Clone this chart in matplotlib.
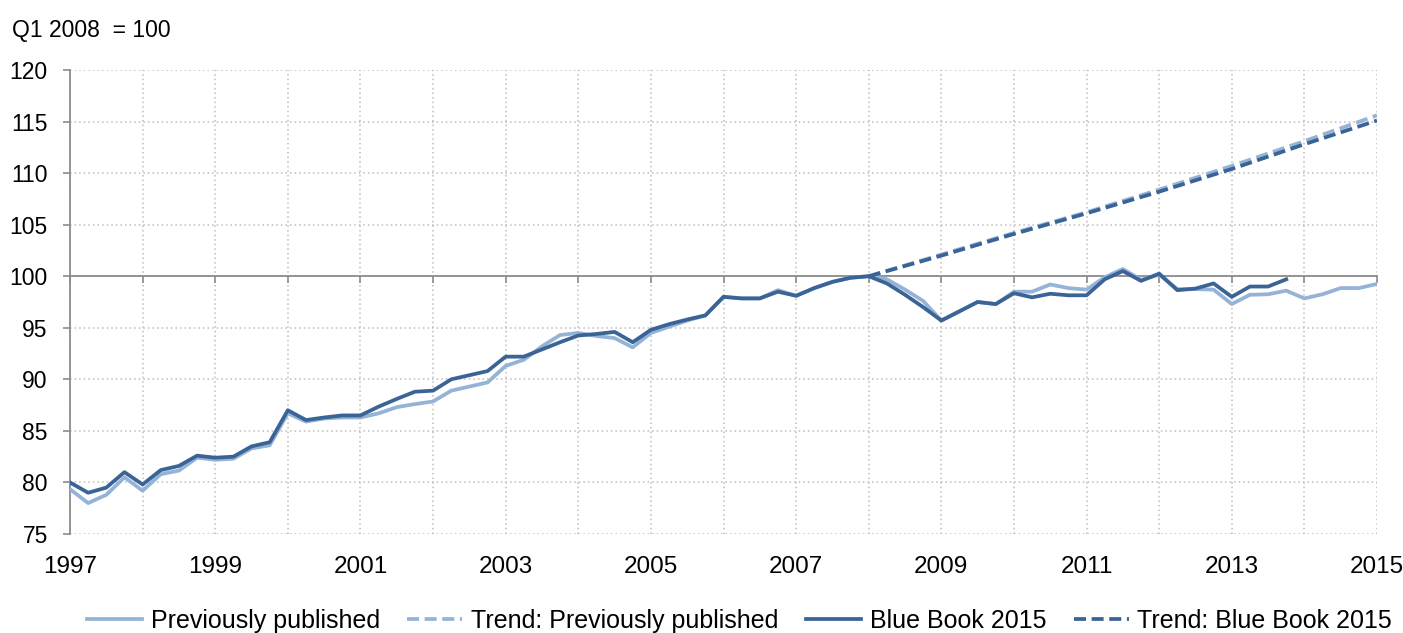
import matplotlib.pyplot as plt
import matplotlib.ticker as mticker

plt.rcParams['font.family'] = ['Liberation Sans', 'DejaVu Sans']

# quarterly index, Q1 2008 = 100
start_year = 1997
prev_published = [
    79.35, 78.0, 78.8, 80.5,      # 1997
    79.2, 80.8, 81.15, 82.4,      # 1998
    82.2, 82.3, 83.3, 83.6,       # 1999
    86.7, 85.9, 86.2, 86.3,       # 2000
    86.3, 86.7, 87.3, 87.6,       # 2001
    87.85, 88.9, 89.3, 89.7,      # 2002
    91.3, 91.9, 93.2, 94.3,       # 2003
    94.5, 94.2, 94.0, 93.1,       # 2004
    94.5, 95.1, 95.7, 96.2,       # 2005
    98.0, 97.85, 97.85, 98.65,    # 2006
    98.1, 98.85, 99.45, 99.85,    # 2007
    100.0, 99.7, 98.7, 97.6,      # 2008
    95.7, 96.6, 97.5, 97.3,       # 2009
    98.5, 98.5, 99.2, 98.85,      # 2010
    98.7, 99.9, 100.7, 99.65,     # 2011
    100.15, 98.75, 98.75, 98.7,   # 2012
    97.3, 98.2, 98.25, 98.6,      # 2013
    97.85, 98.25, 98.85, 98.85,   # 2014
    99.25,                        # 2015
]
blue_book = [
    80.0, 79.0, 79.5, 81.0,
    79.8, 81.2, 81.6, 82.6,
    82.4, 82.5, 83.5, 83.9,
    87.0, 86.05, 86.3, 86.5,
    86.5, 87.35, 88.1, 88.8,
    88.9, 90.0, 90.4, 90.8,
    92.2, 92.2, 92.9, 93.6,
    94.25, 94.4, 94.6, 93.6,
    94.8, 95.35, 95.8, 96.2,
    98.0, 97.85, 97.85, 98.5,
    98.1, 98.85, 99.45, 99.85,
    100.0, 99.3, 98.2, 97.0,
    95.7, 96.6, 97.5, 97.3,
    98.35, 97.95, 98.3, 98.15,
    98.15, 99.7, 100.5, 99.55,
    100.25, 98.65, 98.8, 99.3,
    98.0, 99.0, 99.0, 99.7,
]
trend_years = [2008, 2009, 2010, 2011, 2012, 2013, 2014, 2015]
trend_prev = [100.0, 102.1, 104.2, 106.2, 108.4, 110.7, 113.1, 115.6]
trend_bb = [100.0, 102.0, 104.1, 106.1, 108.2, 110.4, 112.8, 115.1]

year_labels = ["1997", "1999", "2001", "2003", "2005", "2007", "2009", "2011", "2013", "2015"]

LIGHT = "#95B3D7"
DARK = "#3A6396"
GREY = "#8C8C8C"

x_prev = [start_year + i / 4 for i in range(len(prev_published))]
x_bb = [start_year + i / 4 for i in range(len(blue_book))]

fig = plt.figure(figsize=(14.03, 6.33), dpi=100)
ax = fig.add_axes([70 / 1403, 1 - 534 / 633, 1307 / 1403, 464 / 633])

ax.plot(x_prev, prev_published, color=LIGHT, lw=2.7, label="Previously published", zorder=3)
ax.plot(trend_years, trend_prev, color=LIGHT, lw=2.7, dashes=(3.2, 1.5),
        label="Trend: Previously published", zorder=3)
ax.plot(x_bb, blue_book, color=DARK, lw=2.7, label="Blue Book 2015", zorder=4)
ax.plot(trend_years, trend_bb, color=DARK, lw=2.7, dashes=(3.2, 1.5),
        label="Trend: Blue Book 2015", zorder=4)

ax.set_xlim(1997, 2015)
ax.set_ylim(75, 120)
ax.yaxis.set_major_locator(mticker.MultipleLocator(5))
ax.xaxis.set_major_locator(mticker.MultipleLocator(1))
ax.grid(True, color="#BDBDBD", linestyle=(0, (1, 2)), linewidth=1.1, zorder=0)

for s in ["top", "right"]:
    ax.spines[s].set_visible(False)
ax.spines["left"].set_color(GREY)
ax.spines["left"].set_linewidth(1.3)
ax.spines["bottom"].set_position(("data", 100))
ax.spines["bottom"].set_color(GREY)
ax.spines["bottom"].set_linewidth(1.3)
ax.spines["bottom"].set_zorder(2)

ax.tick_params(axis="x", direction="out", length=5, width=1.2, color=GREY, labelbottom=False)
ax.tick_params(axis="y", direction="out", length=5, width=1.2, color=GREY,
               labelsize=16.5, pad=11)

sec = ax.secondary_xaxis("bottom")
sec.set_xticks([int(y) for y in year_labels])
sec.set_xticklabels(year_labels)
sec.tick_params(length=0, labelsize=17.5, pad=16)
sec.spines["bottom"].set_visible(False)

fig.text(12 / 1403, 1 - 30 / 633, "Q1 2008  = 100", fontsize=16.5, va="center", ha="left")

handles, labels = ax.get_legend_handles_labels()
fig.legend(handles, labels, loc="center", bbox_to_anchor=(0.527, 1 - 621 / 633), ncol=4,
           frameon=False, fontsize=18, handlelength=2.2, handletextpad=0.35,
           columnspacing=1.1)

fig.savefig("out.png", dpi=100)
